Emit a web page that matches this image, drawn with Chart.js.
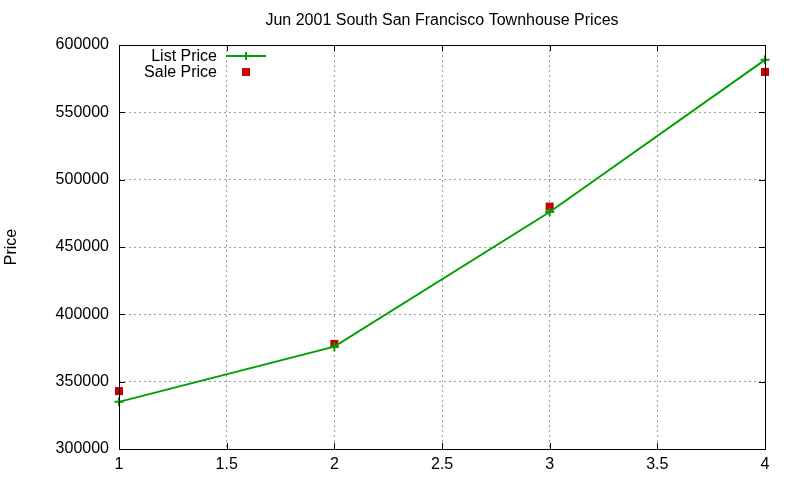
<!DOCTYPE html>
<html>
<head>
<meta charset="utf-8">
<script src="https://cdn.jsdelivr.net/npm/chart.js@4/dist/chart.umd.min.js"></script>
<style>
  html, body { margin: 0; padding: 0; background: #fff; }
  #wrap { width: 800px; height: 480px; }
</style>
</head>
<body>
<div id="wrap"><canvas id="myChart" width="800" height="480"></canvas></div>
<script>
// data
const categories = [1, 2, 3, 4];
const listPrice = [335000, 376000, 476000, 589000];
const salePrice = [343000, 378000, 480000, 580000];
const xTicks = [1, 1.5, 2, 2.5, 3, 3.5, 4];
const yTicks = [300000, 350000, 400000, 450000, 500000, 550000, 600000];

const chartTitle = "Jun 2001 South San Francisco Townhouse Prices";
const FONT = "'Liberation Sans', Arial, sans-serif";
const FSIZE = 16;

// frame, inward tick marks, title, axis label and gnuplot-like key
const gnuplotBits = {
  id: "gnuplotBits",
  afterDatasetsDraw(chart) {
    const ctx = chart.ctx;
    const a = chart.chartArea;
    const xs = chart.scales.x, ys = chart.scales.y;
    ctx.save();
    ctx.strokeStyle = "#000";
    ctx.lineWidth = 1;
    ctx.beginPath();
    xTicks.forEach(v => {
      const px = Math.round(xs.getPixelForValue(v)) + 0.5;
      ctx.moveTo(px, a.bottom); ctx.lineTo(px, a.bottom - 6);
      ctx.moveTo(px, a.top); ctx.lineTo(px, a.top + 6);
    });
    yTicks.forEach(v => {
      const py = Math.round(ys.getPixelForValue(v)) + 0.5;
      ctx.moveTo(a.left, py); ctx.lineTo(a.left + 6, py);
      ctx.moveTo(a.right, py); ctx.lineTo(a.right - 6, py);
    });
    ctx.stroke();
    ctx.strokeRect(Math.round(a.left) + 0.5, Math.round(a.top) + 0.5,
                   Math.round(a.right - a.left), Math.round(a.bottom - a.top));

    ctx.fillStyle = "#000";
    ctx.font = FSIZE + "px " + FONT;
    ctx.textAlign = "center";
    ctx.textBaseline = "middle";
    ctx.fillText(chartTitle, (a.left + a.right) / 2, 21);

    ctx.save();
    ctx.translate(12, (a.top + a.bottom) / 2);
    ctx.rotate(-Math.PI / 2);
    ctx.fillText("Price", 0, 0);
    ctx.restore();

    // key
    const ds = chart.data.datasets;
    ctx.textAlign = "right";
    ds.forEach((d, i) => {
      const y = 56 + i * 16;
      ctx.fillStyle = "#000";
      ctx.fillText(d.label, 217, y + 1);
      const cx = 246;
      if (d.showLine) {
        ctx.strokeStyle = d.borderColor;
        ctx.lineWidth = 2;
        ctx.beginPath();
        ctx.moveTo(226, y); ctx.lineTo(266, y);
        ctx.moveTo(cx, y - 4); ctx.lineTo(cx, y + 4);
        ctx.stroke();
      } else {
        ctx.fillStyle = d.backgroundColor;
        ctx.fillRect(cx - 4, y - 4, 8, 8);
      }
    });
    ctx.restore();
  }
};

new Chart(document.getElementById("myChart"), {
  type: "scatter",
  data: {
    datasets: [
      {
        label: "List Price",
        data: categories.map((c, i) => ({ x: c, y: listPrice[i] })),
        showLine: true,
        clip: false,
        borderColor: "#00a000",
        backgroundColor: "#00a000",
        borderWidth: 2,
        pointStyle: "cross",
        pointRadius: 4.5,
        pointBorderWidth: 2,
        pointBorderColor: "#00a000"
      },
      {
        label: "Sale Price",
        data: categories.map((c, i) => ({ x: c, y: salePrice[i] })),
        showLine: false,
        clip: false,
        borderColor: "#cc0000",
        backgroundColor: "#cc0000",
        pointStyle: "rect",
        pointRadius: 5.7,
        pointBorderWidth: 0
      }
    ]
  },
  options: {
    responsive: false,
    animation: false,
    layout: { padding: { top: 45, right: 35, left: 0, bottom: 0 } },
    plugins: {
      legend: { display: false },
      title: { display: false },
      tooltip: { enabled: false }
    },
    scales: {
      x: {
        type: "linear",
        min: 1, max: 4,
        afterBuildTicks: s => { s.ticks = xTicks.map(v => ({ value: v })); },
        afterFit: s => { s.height = 31; },
        grid: { color: "#a0a0a0", lineWidth: 1, drawTicks: false },
        border: { display: false, dash: [2, 3] },
        ticks: {
          color: "#000", font: { family: FONT, size: FSIZE }, padding: 6, maxRotation: 0,
          callback: v => String(v)
        }
      },
      y: {
        min: 300000, max: 600000,
        afterBuildTicks: s => { s.ticks = yTicks.map(v => ({ value: v })); },
        afterFit: s => { s.width = 119; },
        grid: { color: "#a0a0a0", lineWidth: 1, drawTicks: false },
        border: { display: false, dash: [2, 3] },
        ticks: {
          color: "#000", font: { family: FONT, size: FSIZE }, padding: 10,
          callback: v => String(v)
        }
      }
    }
  },
  plugins: [gnuplotBits]
});
</script>
</body>
</html>
